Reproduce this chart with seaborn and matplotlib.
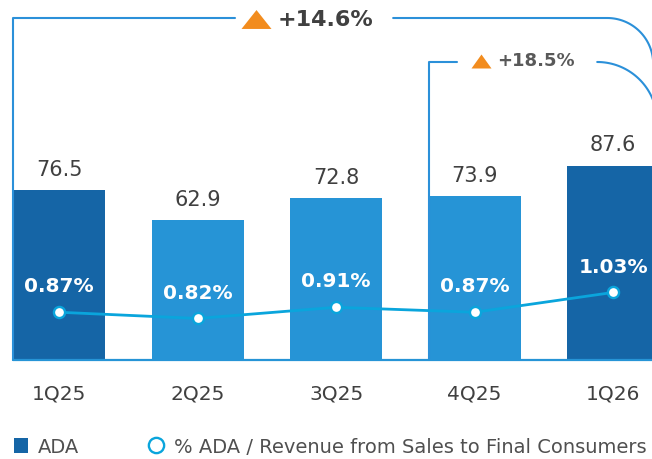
import numpy as np
import pandas as pd
import matplotlib
matplotlib.use("Agg")
import matplotlib.pyplot as plt
import seaborn as sns
from matplotlib.patches import Patch
from matplotlib.lines import Line2D

quarters = ["1Q25", "2Q25", "3Q25", "4Q25", "1Q26"]
ada = [76.5, 62.9, 72.8, 73.9, 87.6]
ada_pct = [0.87, 0.82, 0.91, 0.87, 1.03]
bar_colors = ["#1565A6", "#2694D6", "#2694D6", "#2694D6", "#1565A6"]
growth_labels = ["+14.6%", "+18.5%"]

sns.set_theme(style="white")
plt.rcParams["font.family"] = ["DejaVu Sans"]

df = pd.DataFrame({"q": quarters, "ada": ada, "pct": ada_pct})

fig = plt.figure(figsize=(6.52, 4.60), dpi=100)
ax = fig.add_axes([0, 0.215, 1, 0.763])
W = 0.665
sns.barplot(data=df, x="q", y="ada", color=bar_colors[1], width=W,
            ax=ax, saturation=1, edgecolor="none")
for p, c in zip(ax.containers[0], bar_colors):
    p.set_facecolor(c)
ax.set_xlim(-0.426, 4.28)
ax.set_ylim(0, 158)
ax.bar_label(ax.containers[0], labels=[f"{v:.1f}" for v in ada], padding=8,
             fontsize=15, color="#404040")
for s in ax.spines.values():
    s.set_visible(False)
ax.set_yticks([])
ax.set_xlabel("")
ax.set_ylabel("")
ax.tick_params(axis="x", length=0, pad=17, labelsize=14.5, labelcolor="#404040")

blue = "#2B90D9"
x0 = 0 - W / 2
# baseline
ax.plot([x0, 4.4], [0, 0], color="#2694D6", lw=1.6, clip_on=False, zorder=3)

# twin axis line
ax2 = ax.twinx()
ax2.set_ylim(0.484, 3.315)
xpos = np.arange(len(quarters))
sns.lineplot(x=xpos, y=ada_pct, ax=ax2, color="#0AA5DC", lw=2.0, marker="o",
             markersize=8, markerfacecolor="white", markeredgecolor="#0AA5DC",
             markeredgewidth=1.7, zorder=5)
for xi, v in zip(xpos, ada_pct):
    ax2.annotate(f"{v:.2f}%", (xi, v), xytext=(0, 19), textcoords="offset points",
                 ha="center", va="center", fontsize=14.5, fontweight="bold", color="white")
ax2.set_yticks([])
for s in ax2.spines.values():
    s.set_visible(False)
ax2.set_xlim(-0.426, 4.28)

# brackets
def px2x(px):
    return (px - 59) / 138.5

def arc(xs, ys, rpx):
    rx = rpx / 138.5
    ry = rpx / 2.22
    t = np.linspace(np.pi / 2, 0, 40)
    return xs + rx * np.cos(t), ys - ry + ry * np.sin(t)

y1 = 154
ax.plot([x0, x0, px2x(235)], [0, y1, y1], color=blue, lw=1.5, clip_on=False)
ax_, ay_ = arc(px2x(607), y1, 46)
ax.plot(np.r_[px2x(393), ax_], np.r_[y1, ay_], color=blue, lw=1.5, clip_on=False)
tri1 = [(-1, -0.63), (1, -0.63), (0, 0.63)]
ax.plot([px2x(256)], [y1 - 0.5], marker=tri1, ms=21.6, color="#F28C1E", mec="none", clip_on=False)
ax.text(px2x(278), y1 - 0.5, growth_labels[0], ha="left", va="center", fontsize=16,
        fontweight="bold", color="#404040")

y2 = 134.2
x3 = 3 - W / 2
ax.plot([x3, x3, px2x(457)], [0, y2, y2], color=blue, lw=1.5, clip_on=False)
bx, by = arc(px2x(597), y2, 60)
ax.plot(np.r_[px2x(597), bx], np.r_[y2, by], color=blue, lw=1.5, clip_on=False)
tri2 = [(-1, -0.7), (1, -0.7), (0, 0.7)]
ax.plot([px2x(481)], [y2 + 0.5], marker=tri2, ms=14.4, color="#F28C1E", mec="none", clip_on=False)
ax.text(px2x(497), y2 + 0.8, growth_labels[1], ha="left", va="center", fontsize=13,
        fontweight="bold", color="#595959")

# legend
handles = [Patch(facecolor="#1565A6", edgecolor="none", label="ADA"),
           Line2D([], [], marker="o", ls="none", ms=11, mfc="white", mec="#0AA5DC", mew=1.7,
                  label="% ADA / Revenue from Sales to Final Consumers")]
fig.legend(handles=handles, loc="center left", bbox_to_anchor=(0.0215, 0.027), ncol=2,
           frameon=False, fontsize=14, labelcolor="#505050", handlelength=0.7,
           handleheight=0.8, handletextpad=0.55, columnspacing=3.6,
           borderaxespad=0, borderpad=0)

fig.savefig("out.png", dpi=100)
